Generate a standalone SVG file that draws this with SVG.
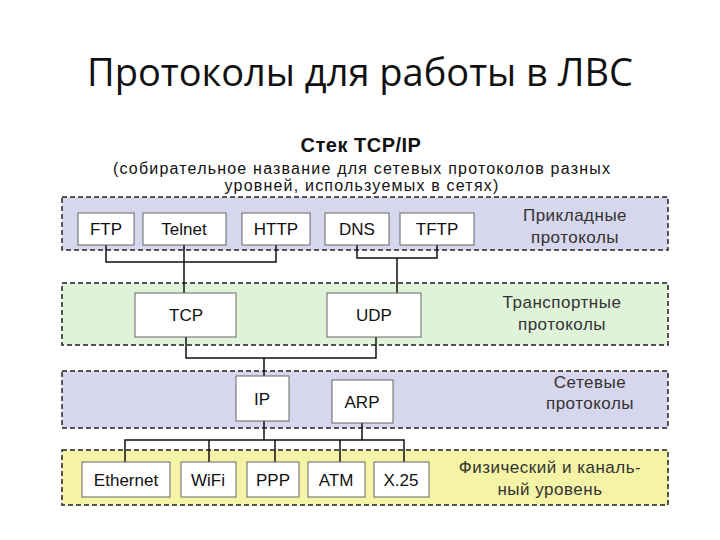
<svg xmlns="http://www.w3.org/2000/svg" width="720" height="540" viewBox="0 0 720 540">
<style>
text{font-family:"Liberation Sans",Arial,sans-serif;fill:#111}
.band{stroke:#222;stroke-width:1.5;stroke-dasharray:5 3}
.box rect{fill:#fff;stroke:#666;stroke-width:1}
.box text{font-size:17px;text-anchor:middle}
.lbl{font-size:17px;text-anchor:middle;fill:#333;letter-spacing:0.5px}
#connectors path{fill:none;stroke:#111;stroke-width:1.5}
</style>
<rect width="720" height="540" fill="#fff"/>
<text x="360" y="86" font-size="38" text-anchor="middle" style="font-family:'Open Sans','Liberation Sans',sans-serif">Протоколы для работы в ЛВС</text>
<text x="361" y="152" font-size="20" font-weight="bold" text-anchor="middle" letter-spacing="0.5">Стек TCP/IP</text>
<text x="362" y="174" font-size="16" text-anchor="middle" fill="#333" letter-spacing="1.2">(собирательное название для сетевых протоколов разных</text>
<text x="362" y="191" font-size="16" text-anchor="middle" fill="#333" letter-spacing="1.2">уровней, используемых в сетях)</text>
<rect class="band" x="62" y="197" width="606" height="53" fill="#d6d6ec"/>
<rect class="band" x="62" y="283" width="606" height="62" fill="#dff3d8"/>
<rect class="band" x="62" y="371" width="606" height="57" fill="#d6d6ec"/>
<rect class="band" x="62" y="450" width="606" height="55" fill="#f5f3a6"/>
<text class="lbl" x="575" y="221">Прикладные</text><text class="lbl" x="575" y="243">протоколы</text>
<text class="lbl" x="562" y="308">Транспортные</text><text class="lbl" x="562" y="330">протоколы</text>
<text class="lbl" x="590" y="388">Сетевые</text><text class="lbl" x="590" y="409">протоколы</text>
<text class="lbl" x="550" y="473">Физический и каналь-</text><text class="lbl" x="550" y="495">ный уровень</text>
<g id="connectors">
<path d="M106 245V262H276V245M184 245V293M357 245V258H437V245M397 258V293"/>
<path d="M186 337V358H376V337M264 358V376"/>
<path d="M264 421V440M362 423V440M125 462V440H404V462M209 440V462M275 440V462M340 440V462"/>
</g>
<g id="ftp" class="box"><rect x="78" y="213" width="56" height="32"/><text x="106" y="235">FTP</text></g>
<g id="telnet" class="box"><rect x="143" y="213" width="83" height="32"/><text x="184" y="235">Telnet</text></g>
<g id="http" class="box"><rect x="242" y="213" width="68" height="32"/><text x="276" y="235">HTTP</text></g>
<g id="dns" class="box"><rect x="325" y="213" width="64" height="32"/><text x="357" y="235">DNS</text></g>
<g id="tftp" class="box"><rect x="400" y="213" width="74" height="32"/><text x="437" y="235">TFTP</text></g>
<g id="tcp" class="box"><rect x="135" y="293" width="101" height="44"/><text x="186" y="321">TCP</text></g>
<g id="udp" class="box"><rect x="327" y="293" width="94" height="44"/><text x="374" y="321">UDP</text></g>
<g id="ip" class="box"><rect x="236" y="376" width="53" height="45"/><text x="262" y="405">IP</text></g>
<g id="arp" class="box"><rect x="332" y="380" width="61" height="43"/><text x="362" y="408">ARP</text></g>
<g id="ethernet" class="box"><rect x="82" y="462" width="88" height="35"/><text x="126" y="486">Ethernet</text></g>
<g id="wifi" class="box"><rect x="181" y="462" width="55" height="35"/><text x="208" y="486">WiFi</text></g>
<g id="ppp" class="box"><rect x="247" y="462" width="52" height="35"/><text x="273" y="486">PPP</text></g>
<g id="atm" class="box"><rect x="308" y="462" width="57" height="35"/><text x="336" y="486">ATM</text></g>
<g id="x25" class="box"><rect x="374" y="462" width="55" height="35"/><text x="401" y="486">X.25</text></g>
</svg>
